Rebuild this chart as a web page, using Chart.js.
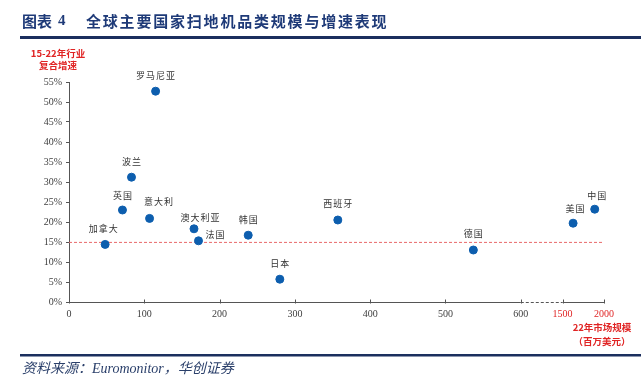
<!DOCTYPE html>
<html>
<head>
<meta charset="utf-8">
<script src="https://cdn.jsdelivr.net/npm/chart.js@4/dist/chart.umd.min.js"></script>
<style>
  html, body { margin: 0; padding: 0; background: #ffffff; }
  #wrap { width: 641px; height: 382px; }
</style>
</head>
<body>
<div id="wrap"><canvas id="c" width="641" height="382"></canvas></div>
<script>
// ---------- data ----------
const countries   = ["罗马尼亚", "波兰", "英国", "意大利", "澳大利亚", "法国", "加拿大", "韩国", "西班牙", "日本", "德国", "美国", "中国"];
const marketSize  = [115, 83, 71, 107, 166, 172, 48, 238, 357, 280, 537, 1627, 1888];   // 22年市场规模（百万美元）
const cagr        = [52.7, 31.2, 23.0, 20.9, 18.3, 15.3, 14.4, 16.7, 20.5, 5.7, 13.0, 19.7, 23.2]; // 15-22年复合增速 %
const avgCagr     = 14.9;   // 行业复合增速（红色虚线）
const xTickLabels = [0, 100, 200, 300, 400, 500, 600, 1500, 2000];
const yTickMax    = 55;

// ---------- broken x-axis transform ----------
const BREAK_FROM = 600, BREAK_TO = 1500, GAP_UNITS = 55.5, COMPRESS = 0.11;
function mapX(v) {
  return v <= BREAK_FROM ? v : BREAK_FROM + GAP_UNITS + (v - BREAK_TO) * COMPRESS;
}

// label placement (dx, dy, align) relative to each point
const labelPlace = {
  "法国":   { dx: 7,  dy: -6,  align: "left" },
  "意大利": { dx: 9,  dy: -17, align: "center" },
  "澳大利亚": { dx: 6, dy: -11, align: "center" },
  "英国":   { dx: 0,  dy: -14, align: "center" },
  "加拿大": { dx: -2, dy: -16, align: "center" },
  "美国":   { dx: 2,  dy: -15, align: "center" },
  "中国":   { dx: 2,  dy: -14, align: "center" }
};

const points = countries.map((c, i) => ({ x: mapX(marketSize[i]), y: cagr[i], name: c }));

const NAVY = "#1e3a78";
const RED = "#e02424";

const decor = {
  id: "decor",
  beforeDatasetsDraw(chart) {
    const ctx = chart.ctx, xs = chart.scales.x, ca = chart.chartArea;
    const y = ca.bottom + 0.5;
    ctx.save();
    ctx.strokeStyle = "#555";
    ctx.lineWidth = 1;
    const p0 = xs.getPixelForValue(mapX(0));
    const p600 = xs.getPixelForValue(mapX(600));
    const p1500 = xs.getPixelForValue(mapX(1500));
    const p2000 = xs.getPixelForValue(mapX(2000));
    ctx.beginPath(); ctx.moveTo(p0, y); ctx.lineTo(p600, y); ctx.stroke();
    ctx.setLineDash([3, 2]);
    ctx.beginPath(); ctx.moveTo(p600, y); ctx.lineTo(p1500, y); ctx.stroke();
    ctx.setLineDash([]);
    ctx.beginPath(); ctx.moveTo(p1500, y); ctx.lineTo(p2000, y); ctx.stroke();
    xTickLabels.forEach(v => {
      const px = Math.round(xs.getPixelForValue(mapX(v))) + 0.5;
      ctx.beginPath(); ctx.moveTo(px, y - 3); ctx.lineTo(px, y + 1); ctx.stroke();
    });
    ctx.restore();
  },
  afterDraw(chart) {
    const ctx = chart.ctx, xs = chart.scales.x, ys = chart.scales.y;
    ctx.save();
    // title
    ctx.fillStyle = NAVY;
    ctx.textBaseline = "middle";
    ctx.textAlign = "left";
    ctx.font = 'bold 15px "Noto Sans CJK SC"';
    ctx.fillText("图表", 22, 21);
    ctx.font = 'bold 15px "Liberation Serif"';
    ctx.fillText("4", 58, 21);
    ctx.font = 'bold 15px "Noto Sans CJK SC"';
    ctx.letterSpacing = "1.8px";
    ctx.fillText("全球主要国家扫地机品类规模与增速表现", 86, 21);
    ctx.letterSpacing = "0px";
    // rules
    ctx.fillStyle = "#1b2f5e";
    ctx.fillRect(20, 36, 621, 3);
    ctx.fillRect(20, 354, 621, 2.5);
    // source
    ctx.fillStyle = "#2a3f6a";
    ctx.font = 'italic 14px "Liberation Serif", "Noto Sans CJK SC"';
    ctx.fillText("资料来源：Euromonitor，华创证券", 22, 369);
    // axis titles
    ctx.fillStyle = RED;
    ctx.textAlign = "center";
    ctx.font = 'bold 9.5px "Noto Sans CJK SC"';
    ctx.fillText("15-22年行业", 58, 53);
    ctx.fillText("复合增速", 58, 65);
    ctx.fillText("22年市场规模", 602, 327);
    ctx.fillText("（百万美元）", 602, 341);
    // point labels
    ctx.fillStyle = "#333";
    ctx.font = '9px "Noto Sans CJK SC"';
    ctx.letterSpacing = "1px";
    points.forEach(p => {
      const pl = labelPlace[p.name] || { dx: 0, dy: -16, align: "center" };
      const px = xs.getPixelForValue(p.x), py = ys.getPixelForValue(p.y);
      ctx.textAlign = pl.align;
      ctx.fillText(p.name, px + pl.dx + (pl.align === "center" ? 0.5 : 0), py + pl.dy);
    });
    ctx.restore();
  }
};

new Chart(document.getElementById("c"), {
  type: "scatter",
  data: {
    datasets: [
      {
        data: points,
        backgroundColor: "#0d5eae",
        borderColor: "#0d5eae",
        pointRadius: 4,
        order: 1
      },
      {
        type: "line",
        data: [{ x: mapX(0), y: avgCagr }, { x: mapX(2000), y: avgCagr }],
        borderColor: "#e8686a",
        borderWidth: 1,
        borderDash: [3, 2],
        pointRadius: 0,
        fill: false,
        order: 2
      }
    ]
  },
  options: {
    responsive: false,
    animation: false,
    devicePixelRatio: 1,
    events: [],
    layout: { padding: { top: 82, right: 37, bottom: 59, left: 0 } },
    plugins: { legend: { display: false }, tooltip: { enabled: false }, title: { display: false } },
    scales: {
      x: {
        type: "linear",
        min: 0,
        max: mapX(2000),
        afterBuildTicks(scale) { scale.ticks = xTickLabels.map(v => ({ value: mapX(v) })); },
        afterFit(scale) { scale.height = 21; },
        grid: { display: false, drawTicks: false },
        border: { display: false },
        ticks: {
          autoSkip: false,
          maxRotation: 0,
          padding: 6,
          font: { family: '"Liberation Serif"', size: 10 },
          color: (c) => (xTickLabels[c.index] > BREAK_FROM ? RED : "#404040"),
          callback: (val, idx) => String(xTickLabels[idx])
        }
      },
      y: {
        min: 0,
        max: yTickMax,
        afterFit(scale) { scale.width = 69; },
        grid: { drawOnChartArea: false, tickLength: 3, color: "#555" },
        border: { display: true, color: "#555", width: 1 },
        ticks: {
          stepSize: 5,
          padding: 4,
          font: { family: '"Liberation Serif"', size: 10 },
          color: "#404040",
          callback: (v) => v + "%"
        }
      }
    }
  },
  plugins: [decor]
});
</script>
</body>
</html>
